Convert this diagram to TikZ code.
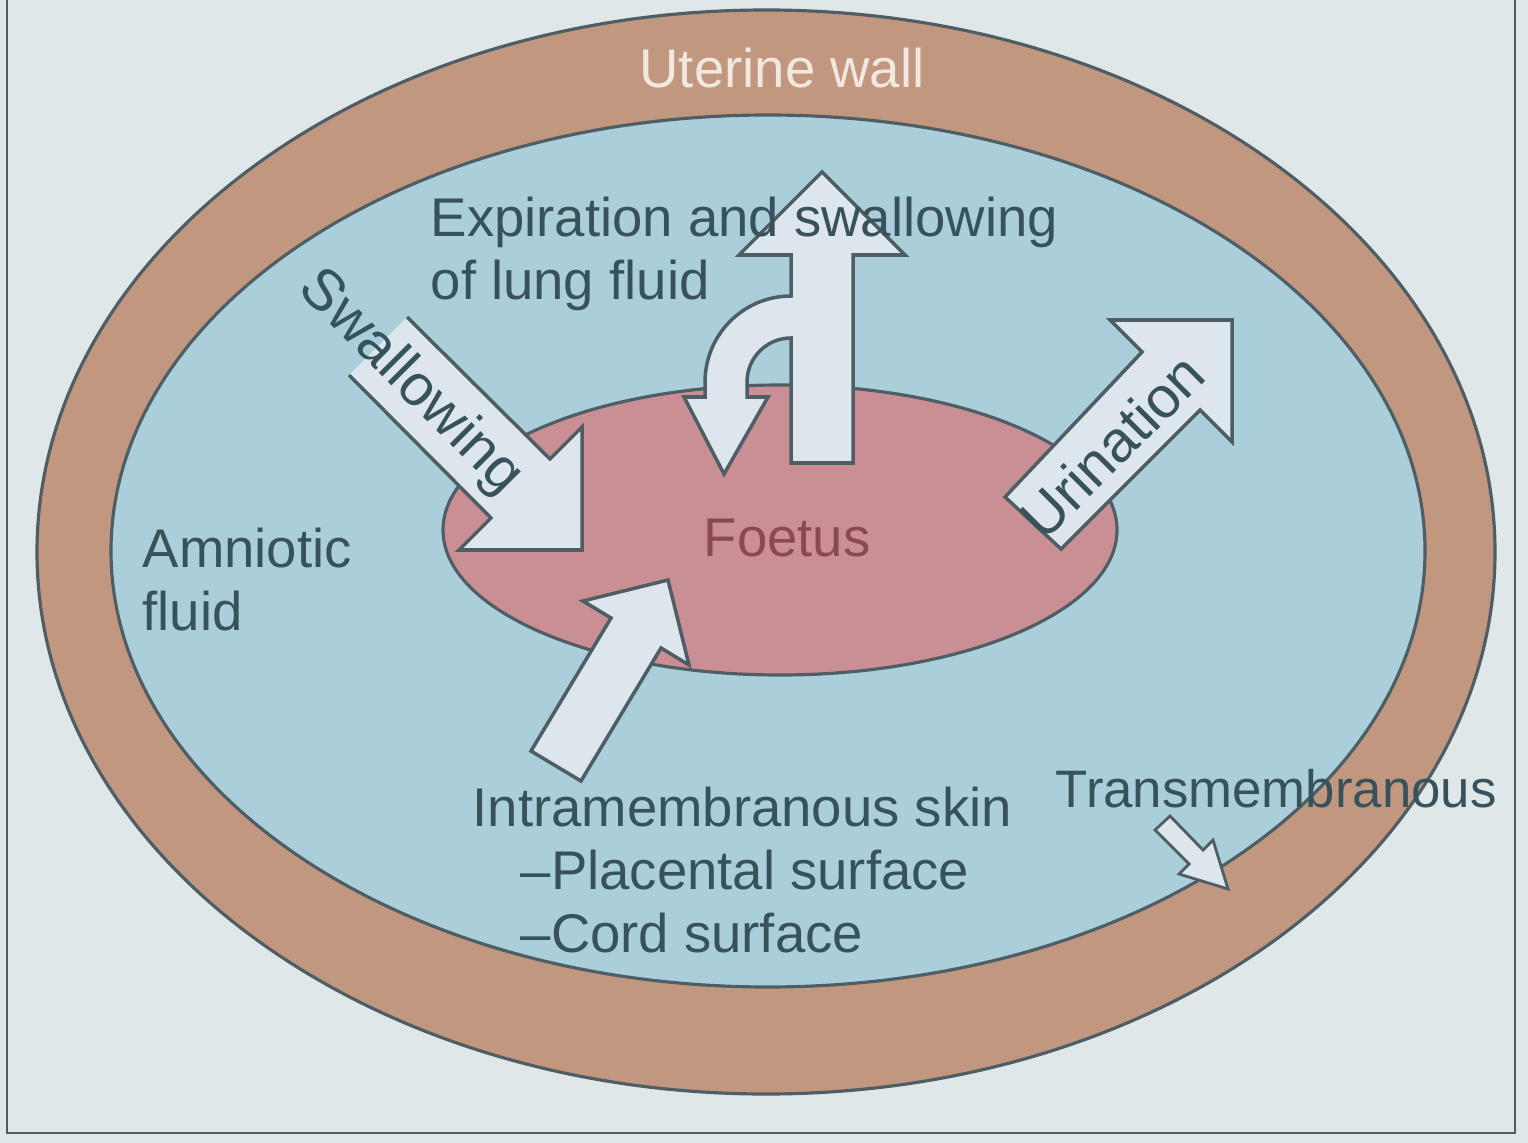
\documentclass[tikz,border=0pt]{standalone}
\usepackage{fontspec}
\setmainfont{Liberation Sans}
\definecolor{bgcol}{RGB}{224,231,233}
\definecolor{wallcol}{RGB}{194,151,128}
\definecolor{fluidcol}{RGB}{170,207,219}
\definecolor{foetuscol}{RGB}{201,143,149}
\definecolor{arrowcol}{RGB}{222,230,237}
\definecolor{edgecol}{RGB}{78,94,100}
\definecolor{txtcol}{RGB}{56,82,92}
\definecolor{foetustxt}{RGB}{140,72,80}
\definecolor{walltxt}{RGB}{242,232,224}

\begin{document}
\begin{tikzpicture}[x=0.01cm, y=-0.01cm, line join=miter,
    outline/.style={draw=edgecol, line width=0.9pt},
    flow/.style={fill=arrowcol, draw=edgecol, line width=1pt},
    every node/.style={text=txtcol, inner sep=0pt, font=\fontsize{15.5}{18}\selectfont},
    turned/.style={font=\fontsize{16.5}{20}\selectfont}]
% page and frame
\useasboundingbox (0,0) rectangle (1528,1143);
\fill[bgcol] (0,0) rectangle (1528,1143);
\draw[edgecol, line width=0.8pt] (7,0) -- (7,1133) -- (1515,1133) -- (1515,0);

% uterine wall, amniotic fluid, foetus
\draw[outline, fill=wallcol] (766,552) ellipse [x radius=729, y radius=542];
\draw[outline, fill=fluidcol] (768,551) ellipse [x radius=657, y radius=436];
\draw[outline, fill=foetuscol] (780,530) ellipse [x radius=337, y radius=145];

% swallowing (tail end left open)
\fill[arrowcol] (407,317) -- (550,459) -- (582,427) -- (582,550) -- (459,550) -- (491,518) -- (349,375) -- cycle;
\draw[edgecol, line width=1pt] (349,375) -- (491,518) -- (459,550) -- (582,550) -- (582,427) -- (550,459) -- (407,317);

% urination
\draw[flow] (1005,497) -- (1142,352) -- (1110,320) -- (1232,320) -- (1232,442) -- (1200,410) -- (1061,549) -- cycle;

% intramembranous flow
\draw[flow] (531,751) -- (611,618) -- (583,601) -- (668,580) -- (689,665) -- (661,648) -- (581,781) -- cycle;

% expiration with the swallowed branch
\draw[flow] (791,463) -- (853,463) -- (853,255) -- (905,255) -- (822,172) -- (739,255) -- (791,255) -- (791,296)
    arc[start angle=-90, end angle=-180, radius=86] -- (705,397) -- (684,397) -- (724,474) -- (768,397) -- (747,397) -- (747,382)
    arc[start angle=180, end angle=270, radius=44] -- cycle;

% transmembranous
\draw[flow, line width=0.8pt] (1170,816) -- (1203,850) -- (1213,840) -- (1228,889) -- (1179,874) -- (1189,864) -- (1155,830) -- cycle;

% labels
\node[anchor=base, text=walltxt] (wall) at (782,88) {Uterine wall};
\node[anchor=north west, align=left] (lung) at (430,196) {Expiration and swallowing\\of lung fluid};
\node[anchor=north west, align=left] (amnio) at (142,527) {Amniotic\\fluid};
\node[text=foetustxt] (foetus) at (787,538) {Foetus};
\node[anchor=north west, align=left] (intra) at (472,786) {Intramembranous skin\\\hspace*{0.48cm}--Placental surface\\\hspace*{0.48cm}--Cord surface};
\node[anchor=north west, font=\fontsize{15}{18}\selectfont] (trans) at (1055,769) {Transmembranous};
\node[turned, rotate=-45] (swallow) at (410,383) {Swallowing};
\node[turned, rotate=45] (urine) at (1112,446) {Urination};
\end{tikzpicture}
\end{document}
